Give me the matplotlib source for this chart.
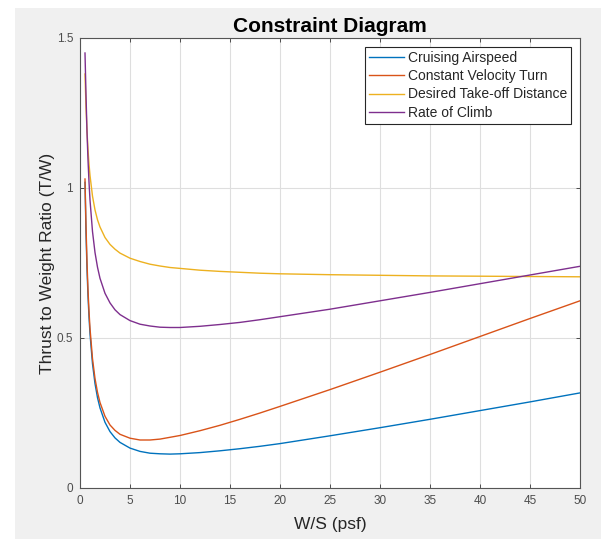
import matplotlib
matplotlib.use("Agg")
import matplotlib.pyplot as plt
from matplotlib.patches import Rectangle

plt.rcParams['font.family'] = ['Liberation Sans', 'DejaVu Sans']

# W/S values (psf)
ws = [0.5, 0.6, 0.7, 0.8, 0.9, 1, 1.25, 1.5, 1.75, 2, 2.5, 3, 3.5, 4, 5, 6, 7, 8, 9,
      10, 12, 14, 16, 18, 20, 25, 30, 35, 40, 45, 50]

cruise = [1.019, 0.850, 0.730, 0.640, 0.570, 0.514, 0.414, 0.348, 0.301, 0.267, 0.219,
          0.188, 0.167, 0.152, 0.133, 0.122, 0.116, 0.114, 0.113, 0.114, 0.118, 0.124,
          0.131, 0.139, 0.148, 0.174, 0.201, 0.229, 0.258, 0.287, 0.317]

turn = [1.030, 0.874, 0.752, 0.660, 0.589, 0.532, 0.431, 0.365, 0.319, 0.285, 0.239,
        0.210, 0.192, 0.179, 0.166, 0.160, 0.160, 0.163, 0.169, 0.175, 0.191, 0.209,
        0.229, 0.250, 0.272, 0.328, 0.386, 0.445, 0.505, 0.565, 0.624]

takeoff = [1.380, 1.270, 1.190, 1.128, 1.080, 1.042, 0.973, 0.927, 0.894, 0.870, 0.835,
           0.812, 0.796, 0.783, 0.766, 0.755, 0.746, 0.740, 0.735, 0.732, 0.726, 0.722,
           0.719, 0.716, 0.714, 0.711, 0.709, 0.707, 0.706, 0.705, 0.704]

climb = [1.450, 1.311, 1.187, 1.094, 1.020, 0.960, 0.855, 0.785, 0.736, 0.699, 0.649,
         0.617, 0.594, 0.578, 0.558, 0.546, 0.540, 0.536, 0.535, 0.535, 0.539, 0.545,
         0.552, 0.561, 0.571, 0.596, 0.624, 0.652, 0.681, 0.710, 0.739]

labels = ["Cruising Airspeed", "Constant Velocity Turn",
          "Desired Take-off Distance", "Rate of Climb"]
colors = ["#0072BD", "#D95319", "#EDB120", "#7E2F8E"]

xticks = [0, 5, 10, 15, 20, 25, 30, 35, 40, 45, 50]
yticks = [0, 0.5, 1, 1.5]
yticklabels = ["0", "0.5", "1", "1.5"]

W, H = 601, 539
fig = plt.figure(figsize=(W / 100, H / 100), dpi=100, facecolor='white')
fig.patches.append(Rectangle((14.6 / W, 0), 1, (H - 7.7) / H,
                             transform=fig.transFigure, facecolor='#f0f0f0',
                             edgecolor='none', zorder=-10))

ax = fig.add_axes([80 / W, (H - 488) / H, 500 / W, 450 / H])
ax.set_facecolor('white')

for series, lab, col in zip([cruise, turn, takeoff, climb], labels, colors):
    ax.plot(ws, series, color=col, lw=1.0, label=lab)

ax.set_xlim(0, 50)
ax.set_ylim(0, 1.5)
ax.set_xticks(xticks)
ax.set_yticks(yticks)
ax.set_yticklabels(yticklabels)
ax.grid(True, color='#dedede', lw=0.8)
ax.set_axisbelow(True)
ax.tick_params(direction='in', top=True, right=True, length=2.7, width=0.7,
               colors='#4d4d4d', labelsize=8.5, labelcolor='#4d4d4d', pad=5)
for s in ax.spines.values():
    s.set_color('#555555')
    s.set_linewidth(0.8)

ax.set_title("Constraint Diagram", fontsize=15, fontweight='bold', color='black', pad=4)
ax.set_xlabel("W/S (psf)", fontsize=12.5, color='#262626', labelpad=7)
ax.set_ylabel("Thrust to Weight Ratio (T/W)", fontsize=12.5, color='#262626', labelpad=1)

leg = ax.legend(loc='upper right', bbox_to_anchor=(0.982, 0.98), borderaxespad=0,
                fontsize=10, handlelength=2.5, handletextpad=0.25, labelspacing=0.3,
                borderpad=0.3, fancybox=False, framealpha=1, edgecolor='#262626')
leg.get_frame().set_linewidth(0.8)
for t in leg.get_texts():
    t.set_color('#262626')

fig.savefig("out.png", dpi=100, facecolor=fig.get_facecolor())
